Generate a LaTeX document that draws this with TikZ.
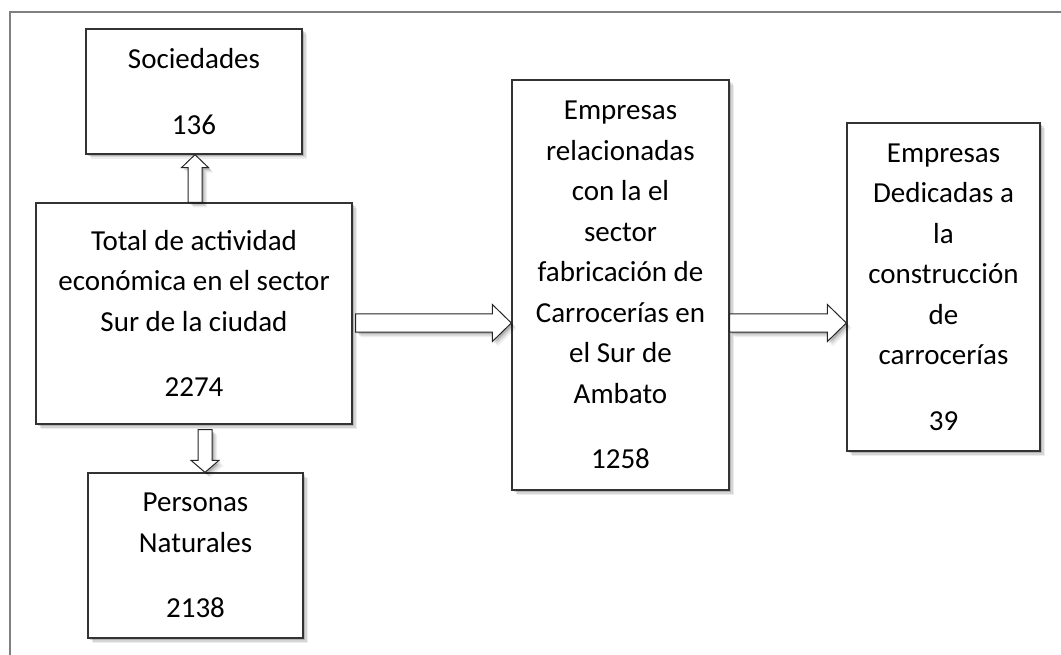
\documentclass[tikz,border=0pt]{standalone}
\usepackage{fontspec}
\setmainfont{Carlito}
\usetikzlibrary{shapes}
\usetikzlibrary{positioning}
\usetikzlibrary{calc}
\usetikzlibrary{shadows}
\tikzset{
    softshadow/.style = {drop shadow={shadow xshift=5pt,shadow yshift=-5pt,opacity=.07,fill=black},
                         drop shadow={shadow xshift=3.5pt,shadow yshift=-3.5pt,opacity=.10,fill=black},
                         drop shadow={shadow xshift=2pt,shadow yshift=-2pt,opacity=.16,fill=black}},
    mybox/.style = {rectangle, draw=black!80, line width=1.3pt, fill=white, align=center, inner sep=0pt, softshadow},
    edgew/.style = {draw=black!85, line width=1pt, fill=white, softshadow},
    framel/.style = {draw=black!50, line width=1.8pt}
}
% hollow block arrows, #1 from, #2 to, #3 position across
\newcommand{\hblock}[3]{%
  \draw[edgew] let \p1=(#1), \p2=(#2), \p3=(0,#3) in
    (\x1,\y3+9pt) -- (\x2-19pt,\y3+9pt) -- (\x2-19pt,\y3+18.5pt) -- (\x2,\y3)
    -- (\x2-19pt,\y3-18.5pt) -- (\x2-19pt,\y3-9pt) -- (\x1,\y3-9pt) -- cycle;}
\newcommand{\upblock}[3]{%
  \draw[edgew] let \p1=(#1), \p2=(#2), \p3=(#3,0) in
    (\x3-7pt,\y1) -- (\x3-7pt,\y2-13pt) -- (\x3-13.5pt,\y2-13pt) -- (\x3,\y2)
    -- (\x3+13.5pt,\y2-13pt) -- (\x3+7pt,\y2-13pt) -- (\x3+7pt,\y1) -- cycle;}
\newcommand{\downblock}[3]{%
  \draw[edgew] let \p1=(#1), \p2=(#2), \p3=(#3,0) in
    (\x3-7pt,\y1) -- (\x3-7pt,\y2+12pt) -- (\x3-14pt,\y2+12pt) -- (\x3,\y2)
    -- (\x3+14pt,\y2+12pt) -- (\x3+7pt,\y2+12pt) -- (\x3+7pt,\y1) -- cycle;}

\begin{document}
\begin{tikzpicture}[
    x=1pt, y=-1pt,
    font=\fontsize{29pt}{40.5pt}\selectfont]

  \useasboundingbox (0,0) rectangle (1061,655);
  \draw[framel] (10,655) -- (10,12) -- (1061,12);

  \node[mybox, minimum width=216pt, minimum height=125pt] (soc) at (194,91.5) {Sociedades\\[25pt]136};
  \node[mybox, minimum width=316pt, minimum height=221pt] (tot) at (194,313.5)
    {Total de actividad\\económica en el sector\\Sur de la ciudad\\[25pt]2274};
  \node[mybox, minimum width=215pt, minimum height=165pt] (per) at (195.5,555.5) {Personas\\Naturales\\[25pt]2138};
  \node[mybox, minimum width=217pt, minimum height=410pt] (emp) at (620.5,285)
    {Empresas\\relacionadas\\con la el\\sector\\fabricación de\\Carrocerías en\\el Sur de\\Ambato\\[25pt]1258};
  \node[mybox, minimum width=193pt, minimum height=328pt] (ded) at (943.5,287)
    {Empresas\\Dedicadas a\\la\\construcción\\de\\carrocerías\\[25pt]39};

  \upblock{tot.north}{soc.south}{195}
  \downblock{$(tot.south)+(0,5)$}{per.north}{205}
  \hblock{$(tot.east)+(3,0)$}{emp.west}{323}
  \hblock{emp.east}{ded.west}{323}

\end{tikzpicture}
\end{document}
